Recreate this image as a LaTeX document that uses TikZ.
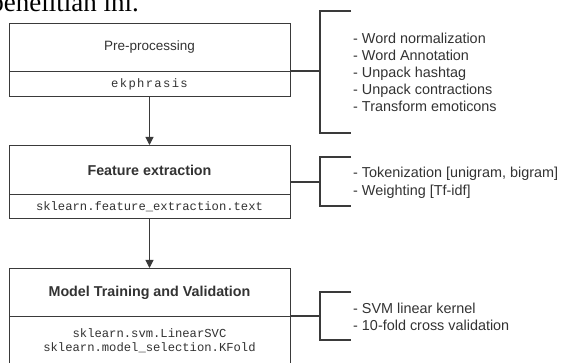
\documentclass[tikz,border=0pt]{standalone}
\usepackage{fontspec}
\setmainfont{Liberation Sans}
\newfontfamily\monof{Liberation Mono}
\newfontfamily\monols[LetterSpace=11]{Liberation Mono}
\newfontfamily\serf{Liberation Serif}
\usetikzlibrary{arrows.meta}
\definecolor{ink}{HTML}{333333}
\definecolor{edge}{HTML}{3A3A3A}
\tikzset{
  part/.style={draw=edge, line width=1pt, minimum width=281pt, inner sep=0pt, text=ink, anchor=north},
  ttl/.style={part, font=\fontsize{13.5}{16}\selectfont},
  bttl/.style={part, font=\bfseries\fontsize{14.3}{16}\selectfont},
  sub/.style={part, font=\monof\fontsize{12.2}{14}\selectfont, align=center},
  brk/.style={draw=edge, line width=2pt},
  arr/.style={draw=edge, line width=1pt, -{Triangle[width=8pt,length=8pt]}},
  note/.style={anchor=west, text=ink, align=left, inner sep=0pt, font=\fontsize{14.4}{17}\selectfont}
}
\begin{document}
\begin{tikzpicture}[x=1pt,y=-1pt]
\useasboundingbox (0,0) rectangle (562,363);
\clip (0,0) rectangle (562,363);
\fill[white] (0,0) rectangle (562,363);
% clipped running text at top
\node[anchor=base east, inner sep=0pt, font=\serf\fontsize{27}{30}\selectfont] (runtxt) at (139,12) {penelitian ini.};
% box 1
\node[ttl, minimum height=48pt] (pre) at (149.5,23) {Pre-processing};
\node[sub, minimum height=25pt, font=\monols\fontsize{12.2}{14}\selectfont] (preS) at (149.5,71) {ekphrasis};
% box 2
\node[bttl, minimum height=49pt] (fe) at (149.5,145) {Feature extraction};
\node[sub, minimum height=24pt] (feS) at (149.5,194) {sklearn.feature\_extraction.text};
% box 3
\node[bttl, minimum height=48pt] (mt) at (149.5,268) {Model Training and Validation};
\node[sub, minimum height=49pt] (mtS) at (149.5,316) {sklearn.svm.LinearSVC\\sklearn.model\_selection.KFold};
% arrows
\draw[arr] (preS.south) -- (fe.north);
\draw[arr] (feS.south) -- (mt.north);
% notes
\node[note] (n1) at (353,72) {- Word normalization\\- Word Annotation\\- Unpack hashtag\\- Unpack contractions\\- Transform emoticons};
\node[note, font=\fontsize{14.4}{18}\selectfont] (n2) at (353,182.5) {- Tokenization [unigram, bigram]\\- Weighting [Tf-idf]};
\node[note] (n3) at (353,317) {- SVM linear kernel\\- 10-fold cross validation};
% brackets
\coordinate (b1) at (320,71);
\coordinate (b2) at (320,182);
\coordinate (b3) at (320,316);
\draw[brk] (pre.east |- b1) -- (b1);
\draw[brk] (351,11) -- (b1 |- 0,11) -- (b1 |- 0,133) -- (351,133);
\draw[brk] (fe.east |- b2) -- (b2);
\draw[brk] (351,157) -- (b2 |- 0,157) -- (b2 |- 0,206) -- (351,206);
\draw[brk] (mt.east |- b3) -- (b3);
\draw[brk] (351,292) -- (b3 |- 0,292) -- (b3 |- 0,340) -- (351,340);
\end{tikzpicture}
\end{document}
